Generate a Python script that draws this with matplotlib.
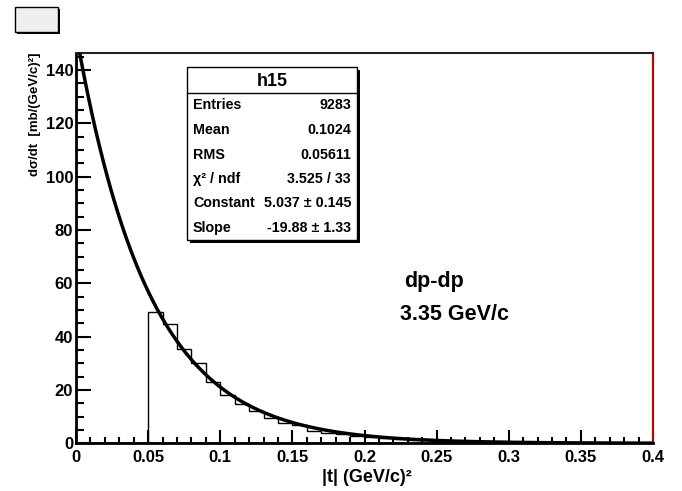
import numpy as np
import matplotlib
matplotlib.use('Agg')
import matplotlib.pyplot as plt
from matplotlib.patches import Rectangle
from matplotlib.lines import Line2D
from matplotlib.ticker import MultipleLocator

plt.rcParams['font.family'] = ['Liberation Sans', 'DejaVu Sans']
plt.rcParams['font.weight'] = 'bold'

# ---- data ----
bin_start = 0.05
bin_width = 0.01
counts = [49.3, 44.9, 35.4, 30.2, 22.9, 18.1, 14.7, 12.2, 9.4, 7.7, 6.9, 4.7, 3.7,
          3.4, 2.9, 2.5, 1.9, 1.6, 1.3, 1.1, 0.9, 0.8, 0.6, 0.5, 0.45, 0.35, 0.3,
          0.25, 0.2, 0.17, 0.14, 0.12, 0.1, 0.08, 0.07]
fit_constant = 5.037
fit_slope = -19.88

x_ticks = [0, 0.05, 0.1, 0.15, 0.2, 0.25, 0.3, 0.35, 0.4]
x_tick_labels = ["0", "0.05", "0.1", "0.15", "0.2", "0.25", "0.3", "0.35", "0.4"]
y_ticks = [0, 20, 40, 60, 80, 100, 120, 140]
y_tick_labels = ["0", "20", "40", "60", "80", "100", "120", "140"]

stats_title = "h15"
stats_labels = ["Entries", "Mean", "RMS", "\u03c7\u00b2 / ndf", "Constant", "Slope"]
stats_values = ["9283", "0.1024", "0.05611", "3.525 / 33", "5.037 \u00b1 0.145", "-19.88 \u00b1 1.33"]

x_label = "|t| (GeV/c)\u00b2"
y_label = "d\u03c3/dt  [mb/(GeV/c)\u00b2]"
note1 = "dp-dp"
note2 = "3.35 GeV/c"

# ---- figure ----
W, H = 682, 491
fig = plt.figure(figsize=(W / 100, H / 100), dpi=100)
fig.patch.set_facecolor('white')

def fx(x):
    return x / W

def fy(y):
    return 1 - y / H

ax_l, ax_r, ax_t, ax_b = 76, 653, 53, 443.3
ax = fig.add_axes([fx(ax_l), fy(ax_b), (ax_r - ax_l) / W, (ax_b - ax_t) / H])
ax.set_xlim(0, 0.4)
ax.set_ylim(0, 146.4)

edges = bin_start + bin_width * np.arange(len(counts) + 1)
ax.stairs(counts, edges, baseline=0, color='black', linewidth=1.0, zorder=3)

xf = np.linspace(0, 0.4, 600)
ax.plot(xf, np.exp(fit_constant + fit_slope * xf), color='black', linewidth=2.5,
        zorder=4, solid_capstyle='butt')

ax.set_xticks(x_ticks)
ax.set_xticklabels(x_tick_labels)
ax.set_yticks(y_ticks)
ax.set_yticklabels(y_tick_labels)
ax.xaxis.set_minor_locator(MultipleLocator(0.01))
ax.yaxis.set_minor_locator(MultipleLocator(5))
ax.tick_params(axis='x', which='major', direction='in', length=9.5, width=1.5,
               labelsize=12, pad=5, top=False)
ax.tick_params(axis='x', which='minor', direction='in', length=4.5, width=1.5, top=False)
ax.tick_params(axis='y', which='major', direction='in', length=11, width=1.5,
               labelsize=12, pad=2, right=False)
ax.tick_params(axis='y', which='minor', direction='in', length=6, width=1.5, right=False)
for lab in ax.get_xticklabels() + ax.get_yticklabels():
    lab.set_fontweight('bold')

for s in ['left', 'bottom']:
    ax.spines[s].set_linewidth(2)
    ax.spines[s].set_color('black')
ax.spines['top'].set_linewidth(1.5)
ax.spines['top'].set_color('#222222')
ax.spines['right'].set_linewidth(1.5)
ax.spines['right'].set_color('#bb0000')
# thin red line just above the bottom axis
ax.add_line(Line2D([0, 1], [0.004, 0.004], transform=ax.transAxes, color='#e03030',
                   linewidth=0.7, zorder=2))

fig.text(fx(412), fy(482), x_label, ha='right', va='baseline', fontsize=13,
         fontweight='bold')
fig.text(fx(35), fy(52), y_label, rotation=90, ha='center', va='top',
         fontsize=9.5, fontweight='bold')

# notes
fig.text(fx(404), fy(282), note1, ha='left', va='center', fontsize=15.5, fontweight='bold')
fig.text(fx(400), fy(315), note2, ha='left', va='center', fontsize=15.5, fontweight='bold')

# stats box
bx0, by0, bx1, by1 = 187, 67, 357, 240
fig.add_artist(Rectangle((fx(bx0 + 3), fy(by1 + 3)), (bx1 - bx0) / W, (by1 - by0) / H,
                         transform=fig.transFigure, facecolor='black', edgecolor='none',
                         zorder=10))
fig.add_artist(Rectangle((fx(bx0), fy(by1)), (bx1 - bx0) / W, (by1 - by0) / H,
                         transform=fig.transFigure, facecolor='white', edgecolor='black',
                         linewidth=1.0, zorder=11))
fig.add_artist(Line2D([fx(bx0), fx(bx1)], [fy(93), fy(93)], transform=fig.transFigure,
                      color='black', linewidth=1.0, zorder=12))
fig.text(fx((bx0 + bx1) / 2), fy(81), stats_title, ha='center', va='center',
         fontsize=13, fontweight='bold', zorder=13)
row_y = [105, 130, 155, 179, 203, 228]
for lab, val, yy in zip(stats_labels, stats_values, row_y):
    fig.text(fx(193), fy(yy), lab, ha='left', va='center', fontsize=10.3,
             fontweight='bold', zorder=13)
    fig.text(fx(351), fy(yy), val, ha='right', va='center', fontsize=10.3,
             fontweight='bold', zorder=13)

# small empty title box top-left
fig.add_artist(Rectangle((fx(17), fy(34)), 43 / W, 25 / H, transform=fig.transFigure,
                         facecolor='black', edgecolor='none', zorder=10))
fig.add_artist(Rectangle((fx(15), fy(32)), 43 / W, 25 / H, transform=fig.transFigure,
                         facecolor='#efefef', edgecolor='black', linewidth=1.0, zorder=11))

fig.savefig('out.png', dpi=100)
